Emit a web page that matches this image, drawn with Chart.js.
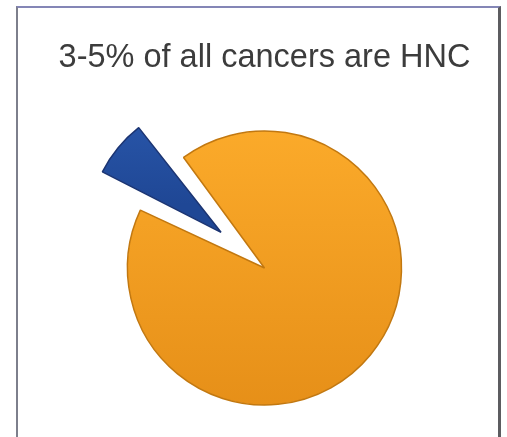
<!DOCTYPE html>
<html>
<head>
  <title>HNC share of all cancers</title>
  <script src="https://cdn.jsdelivr.net/npm/chart.js"></script>
  <style>
    html, body { margin: 0; padding: 0; background: #fff; }
    #frame {
      position: absolute; left: 16px; top: 6px; width: 480px; height: 440px;
      border-left: 2px solid #7d7f8c; border-top: 2px solid #8486b6; border-right: 3px solid #5c5c60;
    }
    #myChart { position: absolute; left: 0; top: 0; }
  </style>
</head>
<body>
  <div id="frame"></div>
  <canvas id="myChart" width="507" height="437"></canvas>

  <script>
    // Data
    var labels = ['Head and neck cancers', 'Other cancers'];
    var shares = [8, 92];
    var titleText = '3-5% of all cancers are HNC';

    var ctx = document.getElementById('myChart').getContext('2d');

    // soft top-to-bottom shading like the original slide
    var orange = ctx.createLinearGradient(0, 130, 0, 410);
    orange.addColorStop(0, '#fbaa2a');
    orange.addColorStop(1, '#e68f18');
    var blue = ctx.createLinearGradient(0, 120, 0, 240);
    blue.addColorStop(0, '#2c5bb0');
    blue.addColorStop(1, '#1f4795');

    // Chart.js grows an offset slice outward; pull it back to pie size
    var explodedTrim = {
      id: 'explodedTrim',
      beforeDatasetsDraw: function (chart) {
        var arc = chart.getDatasetMeta(0).data[0];
        if (arc && !arc._trimmed) {
          arc.outerRadius -= 33;
          arc._trimmed = true;
        }
      }
    };

    var myChart = new Chart(ctx, {
      type: 'pie',
      data: {
        labels: labels,
        datasets: [{
          data: shares,
          backgroundColor: [blue, orange],
          borderColor: ['#1b3472', '#c27810'],
          borderWidth: 1.5,
          offset: [225, 0]
        }]
      },
      options: {
        responsive: false,
        devicePixelRatio: 1,
        animation: false,
        rotation: -65,
        radius: 137,
        layout: { padding: { left: 22, right: 0, top: 0, bottom: 0 } },
        plugins: {
          legend: { display: false },
          tooltip: { enabled: false },
          title: {
            display: true,
            text: titleText,
            color: '#3c3c3c',
            font: { family: 'Liberation Sans', size: 32.5, weight: 'normal' },
            padding: { top: 39, bottom: 21 }
          }
        }
      },
      plugins: [explodedTrim]
    });
  </script>
</body>
</html>
